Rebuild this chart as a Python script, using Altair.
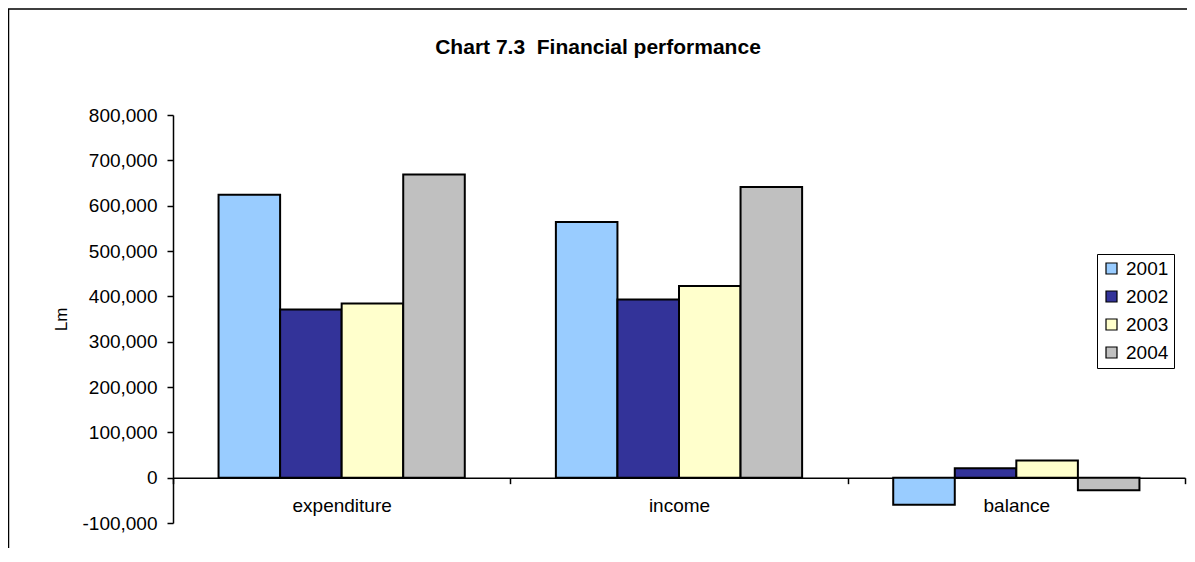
import altair as alt
import pandas as pd

categories = ["expenditure", "income", "balance"]
years = ["2001", "2002", "2003", "2004"]
expenditure = [624000, 371000, 384000, 669000]
income = [564000, 393000, 423000, 641000]
balance = [-60000, 21000, 38000, -28000]
colors = ["#99CCFF", "#333399", "#FFFFCC", "#C0C0C0"]
y_ticks = [-100000, 0, 100000, 200000, 300000, 400000, 500000, 600000, 700000, 800000]

rows = []
for cat, vals in zip(categories, [expenditure, income, balance]):
    for yr, v in zip(years, vals):
        rows.append({"category": cat, "year": yr, "value": v})
df = pd.DataFrame(rows)

FONT = "Liberation Sans"
W, H = 1012, 408

bars = alt.Chart(df).mark_bar(stroke="black", strokeWidth=2).encode(
    x=alt.X(
        "category:N",
        sort=categories,
        scale=alt.Scale(paddingInner=0, paddingOuter=0),
        axis=alt.Axis(
            title=None, orient="bottom", offset=-45.33, tickBand="extent",
            labelAngle=0, labelFont=FONT, labelFontSize=19, labelColor="black",
            labelPadding=13, tickSize=6, tickColor="black", domainColor="black",
            domainWidth=1.5, tickWidth=1.5,
        ),
    ),
    xOffset=alt.XOffset("year:N", sort=years,
                        scale=alt.Scale(paddingInner=0, paddingOuter=0.74)),
    y=alt.Y(
        "value:Q",
        scale=alt.Scale(domain=[-100000, 800000], nice=False, zero=False),
        axis=alt.Axis(
            values=y_ticks, grid=False, title="Lm",
            labelExpr="(datum.value < 0 ? '-' : '') + format(abs(datum.value), ',')",
            labelFont=FONT, labelFontSize=19, labelColor="black", labelPadding=10,
            tickSize=6, tickColor="black", domainColor="black",
            domainWidth=1.5, tickWidth=1.5,
            titleFont=FONT, titleFontSize=17, titleFontWeight="normal", titleColor="black",
            titleX=-111.5, titleY=204, titleAngle=270, titleBaseline="middle",
            titleAlign="center",
        ),
    ),
    color=alt.Color(
        "year:N",
        scale=alt.Scale(domain=years, range=colors),
        legend=alt.Legend(
            title=None, orient="none", legendX=924, legendY=139,
            symbolType="square", symbolSize=121, symbolStrokeColor="black",
            symbolStrokeWidth=1.2, symbolOpacity=1,
            labelFont=FONT, labelFontSize=19, labelColor="black", labelOffset=5,
            strokeColor="black", fillColor="white", padding=5, rowPadding=8,
        ),
    ),
)

frame = alt.Chart(pd.DataFrame({"f": [0]})).mark_rect(
    filled=False, stroke="black", strokeWidth=1.5
).encode(
    x=alt.value(-164.5), x2=alt.value(1300), y=alt.value(-106), y2=alt.value(700)
)

chart = alt.layer(frame, bars).properties(
    width=W,
    height=H,
    title=alt.TitleParams(
        "Chart 7.3\u00a0 Financial performance",
        font=FONT, fontSize=21, fontWeight="bold", color="black",
        anchor="middle", dx=-81, dy=54,
    ),
    autosize=alt.AutoSizeParams(type="none"),
    padding={"left": 165, "top": 107, "right": 2, "bottom": 25},
).configure_view(stroke=None)

chart.save("out.html", embed_options={"renderer": "svg", "actions": False})
